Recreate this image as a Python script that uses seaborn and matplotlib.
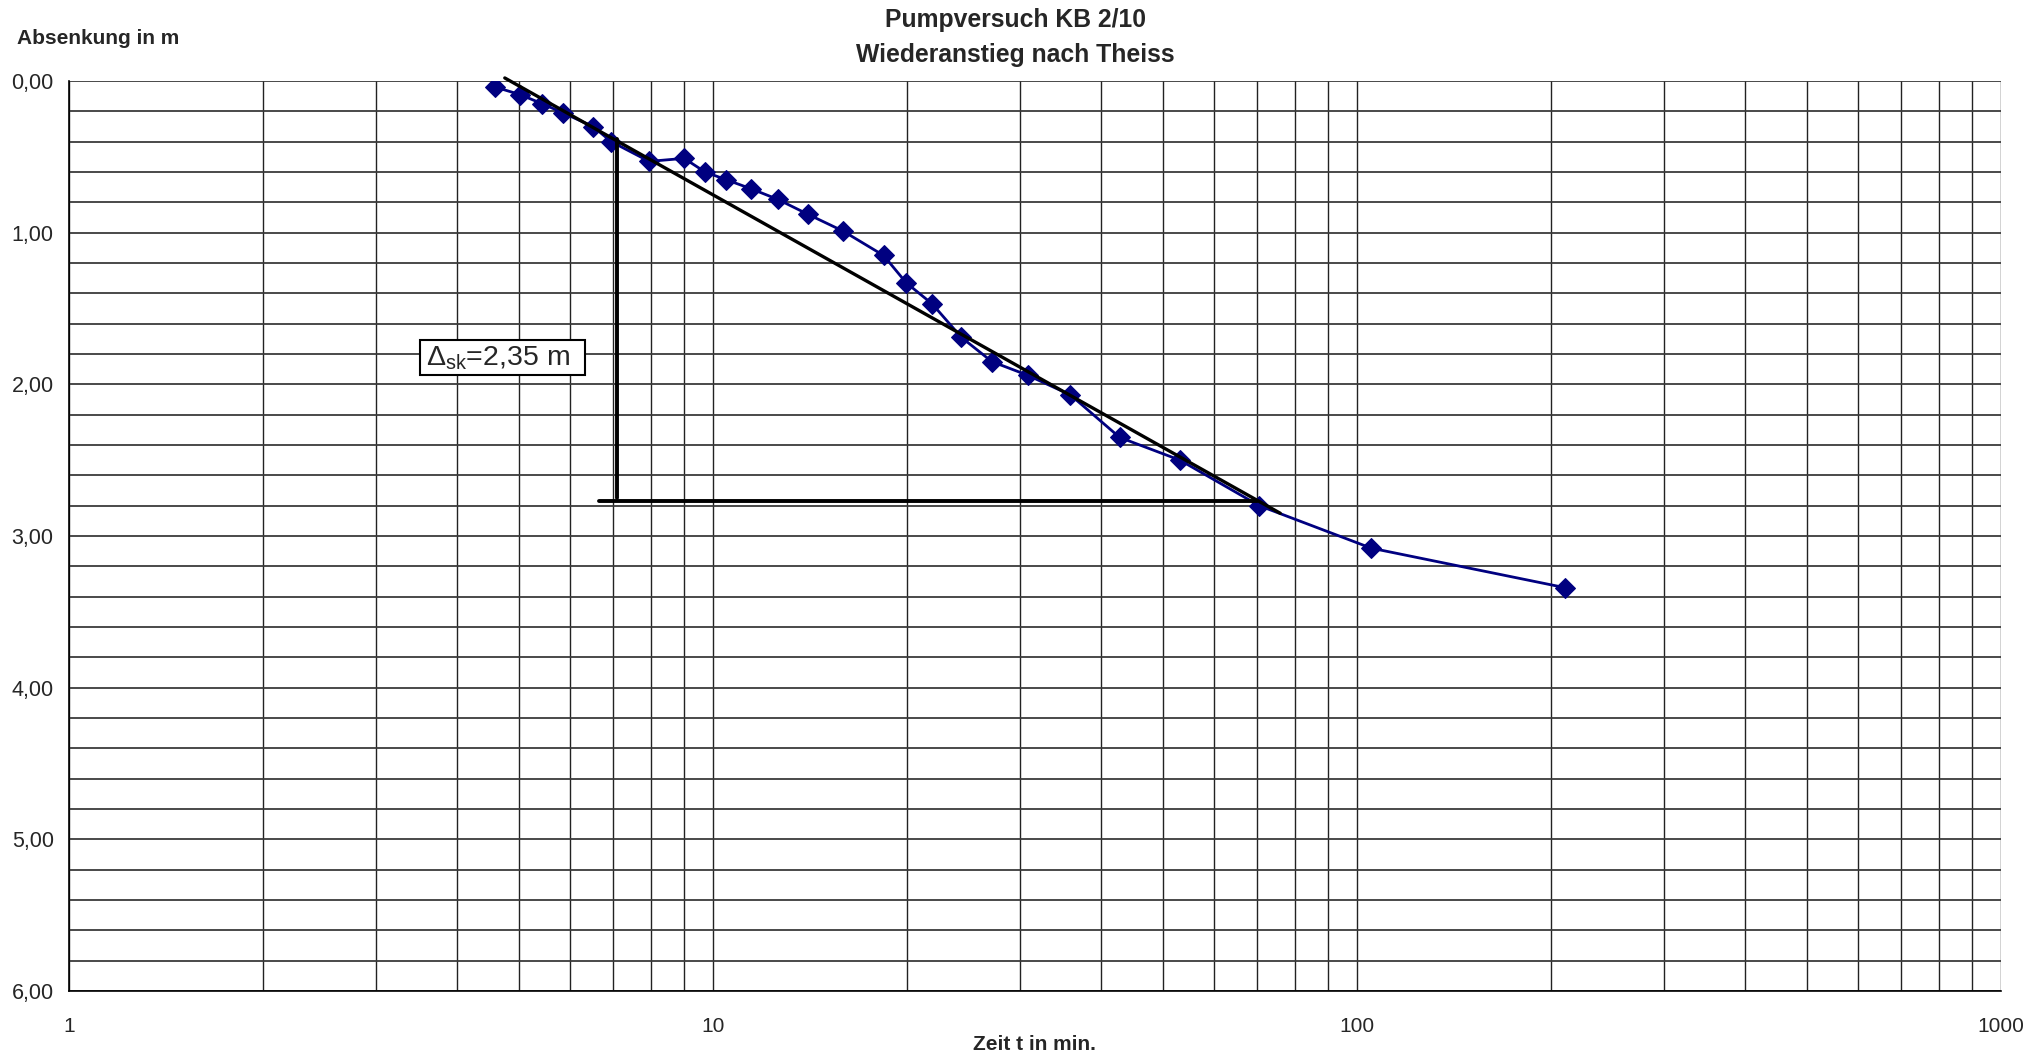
import numpy as np
import matplotlib
matplotlib.use("Agg")
import matplotlib.pyplot as plt
from matplotlib.patches import Rectangle
from matplotlib.ticker import FixedLocator, FuncFormatter, LogLocator, NullFormatter
import seaborn as sns
import pandas as pd

# Wiederanstieg: Zeit nach Pumpende (min) und Absenkung (m)
time_min = [4.59, 5.02, 5.43, 5.85, 6.51, 6.95, 7.96, 9.02, 9.72, 10.47, 11.45,
            12.6, 14.06, 15.93, 18.4, 19.95, 21.9, 24.3, 27.1, 30.8, 35.9, 42.8,
            53.1, 70.5, 105.2, 210.0]
absenkung_m = [0.04, 0.09, 0.15, 0.21, 0.30, 0.40, 0.53, 0.51, 0.60, 0.65, 0.71,
               0.78, 0.88, 0.99, 1.15, 1.33, 1.47, 1.69, 1.85, 1.94, 2.07, 2.35,
               2.50, 2.80, 3.08, 3.34]

# Ausgleichsgerade nach Theis
fit_t = [4.75, 76.0]
fit_s = [-0.02, 2.85]

# Steigungsdreieck
vert_t = [7.1, 7.1]
vert_s = [0.38, 2.75]
horiz_t = [6.65, 70.0]
horiz_s = [2.77, 2.77]

label_text = r"$\Delta_{\mathrm{sk}}$=2,35 m"
label_box_t = (3.51, 6.33)
label_box_s = (1.71, 1.94)

x_ticks = [1, 10, 100, 1000]
y_ticks = [0, 1, 2, 3, 4, 5, 6]

sns.set_style("white")
plt.rcParams["font.family"] = ["Liberation Sans", "DejaVu Sans"]
plt.rcParams["mathtext.fontset"] = "custom"
plt.rcParams["mathtext.rm"] = "Liberation Sans"
plt.rcParams["mathtext.it"] = "Liberation Sans:italic"
plt.rcParams["mathtext.bf"] = "Liberation Sans:bold"

fig = plt.figure(figsize=(20.44, 10.56), dpi=100)
ax = fig.add_axes([69 / 2044, 1 - 991 / 1056, (2001 - 69) / 2044, (991 - 81) / 1056])

ax.set_xscale("log")
ax.set_xlim(1, 1000)
ax.set_ylim(6, 0)

# Gitter
ax.xaxis.set_major_locator(FixedLocator(x_ticks))
ax.xaxis.set_minor_locator(LogLocator(base=10, subs=np.arange(2, 10)))
ax.xaxis.set_minor_formatter(NullFormatter())
ax.xaxis.set_major_formatter(FuncFormatter(lambda v, p: f"{int(round(v))}"))
ax.yaxis.set_major_locator(FixedLocator(y_ticks))
ax.yaxis.set_minor_locator(FixedLocator(np.arange(0, 6.01, 0.2)))
ax.yaxis.set_major_formatter(FuncFormatter(lambda v, p: f"{v:.2f}".replace(".", ",")))

ax.grid(which="both", axis="x", color="#222222", linewidth=1.0)
ax.grid(which="both", axis="y", color="#3a3a3a", linewidth=1.3)
ax.set_axisbelow(True)

for side in ["top", "right"]:
    ax.spines[side].set_visible(False)
for side in ["left", "bottom"]:
    ax.spines[side].set_color("black")
    ax.spines[side].set_linewidth(1.2)

ax.tick_params(axis="both", which="major", direction="inout", length=10, width=1,
               color="black")
ax.tick_params(axis="x", which="major", labelsize=15, pad=14)
ax.tick_params(axis="y", which="major", labelsize=15.5, pad=6)
ax.tick_params(axis="both", which="minor", length=0)

df = pd.DataFrame({"t": time_min, "s": absenkung_m})
sns.lineplot(data=df, x="t", y="s", sort=False, ax=ax, color="#000080",
             linewidth=2.0, marker="D", markersize=10.5,
             markeredgecolor="#000080", markerfacecolor="#000080", zorder=4)

ax.plot(fit_t, fit_s, color="black", linewidth=2.4, zorder=5, clip_on=False)
ax.plot(vert_t, vert_s, color="black", linewidth=2.8, zorder=5)
ax.plot(horiz_t, horiz_s, color="black", linewidth=2.8, zorder=5)

# Beschriftung der Steigung
ax.add_patch(Rectangle((label_box_t[0], label_box_s[0]),
                       label_box_t[1] - label_box_t[0],
                       label_box_s[1] - label_box_s[0],
                       facecolor="white", edgecolor="black", linewidth=1.5, zorder=6))
ax.text(label_box_t[0] * 1.02, (label_box_s[0] + label_box_s[1]) / 2, label_text,
        fontsize=20.5, va="center", ha="left", zorder=7)

ax.set_xlabel("")
ax.set_ylabel("")

fig.text(1015 / 2044, 1 - 20 / 1056, "Pumpversuch KB 2/10", ha="center", va="center",
         fontsize=17.8, fontweight="bold")
fig.text(1015 / 2044, 1 - 55 / 1056, "Wiederanstieg nach Theiss", ha="center",
         va="center", fontsize=17.8, fontweight="bold")
fig.text(17 / 2044, 1 - 39 / 1056, "Absenkung in m", ha="left", va="center",
         fontsize=15, fontweight="bold")
fig.text(1034 / 2044, 1 - 1044 / 1056, "Zeit t in min.", ha="center", va="center",
         fontsize=15, fontweight="bold")

fig.savefig("out.png", dpi=100, facecolor="white")
